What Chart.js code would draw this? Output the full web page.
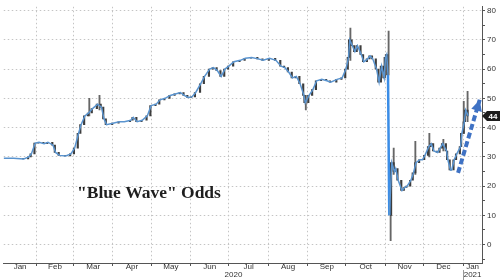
<!DOCTYPE html>
<html>
<head>
<meta charset="utf-8">
<script src="https://cdn.jsdelivr.net/npm/chart.js@4.4.1/dist/chart.umd.min.js"></script>
<style>
html, body { margin: 0; padding: 0; background: #fff; }
#wrap { width: 500px; height: 280px; }
</style>
</head>
<body>
<div id="wrap"><canvas id="oddsChart"></canvas></div>
<script>
// day numbers counted from 1 Jan 2020
const days = [5, 13, 21, 25, 27, 30, 33, 37, 40, 44, 46, 49, 54, 58, 61, 64, 66, 69, 72, 75,
  79, 82, 84, 86, 91, 96, 100, 105, 107, 110, 114, 118, 121, 125, 128, 132, 136, 140, 144, 147,
  150, 153, 156, 160, 163, 167, 170, 173, 176, 179, 182, 186, 191, 195, 200, 205, 209, 214, 219, 223,
  226, 229, 232, 235, 238, 241, 242, 245, 248, 251, 255, 259, 262, 267, 271, 274, 276, 277, 279, 281,
  283, 286, 288, 291, 293, 295, 298, 300, 302, 304, 305, 306, 307, 308, 310, 312, 313, 315, 318, 320,
  322, 325, 327, 329, 332, 334, 336, 339, 341, 343, 346, 348, 350, 353, 354, 356, 357, 359, 361, 364,
  365, 367, 368, 370];
const odds = [29.5, 29.5, 29.3, 30, 31, 34.7, 35, 34.5, 35, 34, 31.5, 30.5, 30.3, 31, 33, 38, 41, 44, 45, 46.5,
  48, 47, 43, 41, 41.5, 42, 42, 42.5, 43.5, 42, 42.5, 44, 47.5, 48, 49.5, 50, 51, 51.5, 52, 51,
  50.3, 50.5, 52, 55, 57.5, 60, 60.5, 59.5, 57.5, 60, 61, 62.5, 63, 63.7, 64, 63.5, 63, 63.7, 63, 61,
  60.5, 59, 57, 57.5, 55, 51, 48.5, 51, 53, 56, 56.5, 56, 55.5, 56.5, 57, 60, 64, 70, 68, 66,
  68, 65, 62.5, 63.5, 64.5, 63.5, 60, 55.5, 61, 57, 64, 65, 58, 10, 28, 25, 26, 22, 18.5, 19.5,
  20, 22, 24.5, 28, 29, 29, 30.5, 33.5, 34.5, 32, 31.5, 33, 34.5, 32, 29, 25.5, 25.5, 29, 31, 33.5,
  38, 42, 46, 44];

// extra high/low wicks
const wickDays = [72, 80, 242, 277, 307, 308.6, 311, 328, 339, 350, 366, 369];
const wickLow = [44, 46, 46, 63, 58, 1.3, 24, 24, 30, 32, 38, 42];
const wickHigh = [50, 51, 51, 74, 73, 12, 33, 35.3, 38, 36, 49, 52.4];

const monthStarts = [0, 31, 60, 91, 121, 152, 182, 213, 244, 274, 305, 335, 366];
const monthNames = ['Jan', 'Feb', 'Mar', 'Apr', 'May', 'Jun', 'Jul', 'Aug', 'Sep', 'Oct', 'Nov', 'Dec', 'Jan'];
const years = ['2020', '2021'];
const yTicks = [-5, 0, 5, 10, 15, 20, 25, 30, 35, 40, 45, 50, 55, 60, 65, 70, 75, 80];

const arrowDays = [362, 379];
const arrowOdds = [24.5, 49.5];
const lastValue = 44;

const xMin = 5.3, xMax = 380.8;

// x ticks: month starts (grid only), month labels centred in visible part, year labels
const xTicks = [];
const xLabels = [];
monthStarts.forEach(function(d) { xTicks.push(d); xLabels.push(''); });
monthNames.forEach(function(name, i) {
    const a = Math.max(monthStarts[i], xMin);
    const b = i + 1 < monthStarts.length ? monthStarts[i + 1] : xMax;
    xTicks.push((a + b) / 2);
    xLabels.push(i === 12 ? [name, years[1]] : name);
});
xTicks.push((xMin + monthStarts[12]) / 2); xLabels.push(['', years[0]]);

const lineData = days.map(function(d, i) { return { x: d, y: odds[i] }; });
const candleData = days.slice(1).map(function(d, i) { return { x: d, y: [odds[i], odds[i + 1]] }; });
const wickData = wickDays.map(function(d, i) { return { x: d, y: [wickLow[i], wickHigh[i]] }; });
const arrowData = arrowDays.map(function(d, i) { return { x: d, y: arrowOdds[i] }; });

function bigMove(a, b) { return Math.abs(a - b) > 20; }

const extras = {
    id: 'extras',
    afterDraw: function(chart) {
        const ctx = chart.ctx;
        const xs = chart.scales.x, ys = chart.scales.y;

        // title text
        ctx.save();
        ctx.font = 'bold 17.5px "Liberation Serif"';
        ctx.fillStyle = '#1e1e1e';
        ctx.textBaseline = 'alphabetic';
        ctx.fillText('"Blue Wave" Odds', 77, 198);

        // arrow head
        const x1 = xs.getPixelForValue(arrowDays[0]), y1 = ys.getPixelForValue(arrowOdds[0]);
        const x2 = xs.getPixelForValue(arrowDays[1]), y2 = ys.getPixelForValue(arrowOdds[1]);
        const ang = Math.atan2(y2 - y1, x2 - x1);
        ctx.fillStyle = '#3f72c4';
        ctx.beginPath();
        ctx.moveTo(x2, y2);
        ctx.lineTo(x2 - 11 * Math.cos(ang) + 5.5 * Math.sin(ang), y2 - 11 * Math.sin(ang) - 5.5 * Math.cos(ang));
        ctx.lineTo(x2 - 11 * Math.cos(ang) - 5.5 * Math.sin(ang), y2 - 11 * Math.sin(ang) + 5.5 * Math.cos(ang));
        ctx.closePath();
        ctx.fill();

        // last value marker
        const yv = ys.getPixelForValue(lastValue);
        const left = chart.chartArea.right;
        ctx.fillStyle = '#1c1c1c';
        ctx.beginPath();
        ctx.moveTo(left, yv);
        ctx.lineTo(left + 5, yv - 5);
        ctx.lineTo(500, yv - 5);
        ctx.lineTo(500, yv + 5);
        ctx.lineTo(left + 5, yv + 5);
        ctx.closePath();
        ctx.fill();
        ctx.fillStyle = '#fff';
        ctx.font = 'bold 8px "Liberation Sans"';
        ctx.textAlign = 'center';
        ctx.textBaseline = 'middle';
        ctx.fillText(String(lastValue), left + 11, yv + 0.5);

        // year separator
        const xs2021 = xs.getPixelForValue(monthStarts[12]);
        ctx.strokeStyle = '#999';
        ctx.lineWidth = 1;
        ctx.beginPath();
        ctx.moveTo(Math.round(xs2021) + 0.5, 270);
        ctx.lineTo(Math.round(xs2021) + 0.5, 280);
        ctx.stroke();
        ctx.restore();
    }
};

new Chart(document.getElementById('oddsChart'), {
    type: 'line',
    data: {
        datasets: [{
            type: 'line',
            label: 'Blue Wave',
            data: lineData,
            borderColor: '#5a94cf',
            borderWidth: 1.5,
            pointRadius: 0,
            tension: 0,
            segment: {
                borderColor: function(c) { return bigMove(c.p0.parsed.y, c.p1.parsed.y) ? '#3b8de6' : undefined; },
                borderWidth: function(c) { return bigMove(c.p0.parsed.y, c.p1.parsed.y) ? 2.5 : undefined; }
            },
            order: 1
        }, {
            type: 'bar',
            label: 'candles',
            data: candleData,
            backgroundColor: function(c) {
                const r = c.raw && c.raw.y;
                return r && bigMove(r[0], r[1]) ? 'transparent' : '#3d3d3d';
            },
            barThickness: 1.5,
            order: 2
        }, {
            type: 'bar',
            label: 'wicks',
            data: wickData,
            backgroundColor: '#666',
            barThickness: 1.2,
            order: 3
        }, {
            type: 'line',
            label: 'arrow',
            data: arrowData,
            borderColor: '#3f72c4',
            borderWidth: 4,
            borderDash: [6, 3],
            pointRadius: 0,
            order: 0
        }]
    },
    options: {
        responsive: true,
        maintainAspectRatio: false,
        animation: false,
        layout: { padding: 0 },
        plugins: { legend: { display: false }, tooltip: { enabled: false } },
        scales: {
            x: {
                type: 'linear',
                min: xMin,
                max: xMax,
                offset: false,
                afterBuildTicks: function(s) { s.ticks = xTicks.map(function(v) { return { value: v }; }); },
                afterFit: function(s) { s.height = 17; },
                ticks: {
                    autoSkip: false,
                    maxRotation: 0,
                    padding: -3,
                    color: '#333',
                    font: { family: 'Liberation Sans', size: 8, lineHeight: 1.0 },
                    callback: function(v, i) { return xLabels[i]; }
                },
                grid: {
                    offset: false,
                    color: function(c) { return c.tick && monthStarts.includes(c.tick.value) ? '#c4c4c4' : 'transparent'; },
                    tickColor: function(c) { return c.tick && monthStarts.includes(c.tick.value) ? '#555' : 'transparent'; },
                    tickLength: 3
                },
                border: { color: '#555', dash: [1.5, 2.5] }
            },
            y: {
                position: 'right',
                min: -6.3,
                max: 81.3,
                afterBuildTicks: function(s) { s.ticks = yTicks.map(function(v) { return { value: v }; }); },
                afterFit: function(s) { s.width = 18; },
                ticks: {
                    padding: 2,
                    color: '#333',
                    font: { family: 'Liberation Sans', size: 8 },
                    callback: function(v) { return v % 10 === 0 ? String(v) : ''; }
                },
                grid: {
                    color: function(c) { return c.tick && c.tick.value % 10 === 0 ? '#c4c4c4' : 'transparent'; },
                    tickColor: '#555',
                    tickLength: 3
                },
                border: { color: '#555', dash: [1.5, 2.5] }
            }
        }
    },
    plugins: [extras]
});
</script>
</body>
</html>
